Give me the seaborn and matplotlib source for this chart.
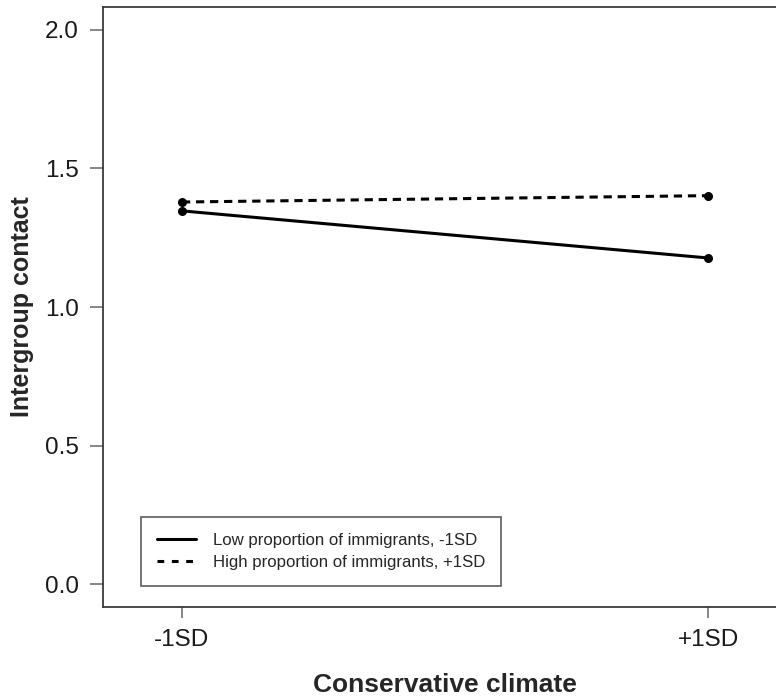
import numpy as np
import pandas as pd
import matplotlib
matplotlib.use("Agg")
import matplotlib.pyplot as plt
import seaborn as sns
from matplotlib.lines import Line2D

# Data
climate_labels = ["-1SD", "+1SD"]
climate_pos = [0, 1]
low_immigrants = [1.347, 1.177]
high_immigrants = [1.379, 1.402]
series_names = ["Low proportion of immigrants, -1SD", "High proportion of immigrants, +1SD"]
y_ticks = [0.0, 0.5, 1.0, 1.5, 2.0]

df = pd.DataFrame({
    "x": climate_pos * 2,
    "y": low_immigrants + high_immigrants,
    "group": [series_names[0]] * 2 + [series_names[1]] * 2,
})

sns.set_theme(style="white")
plt.rcParams["font.family"] = ["Liberation Sans", "DejaVu Sans"]

fig = plt.figure(figsize=(7.76, 6.99), dpi=100)
ax = fig.add_axes([103 / 776, 92 / 699, 684 / 776, 600 / 699])

sns.lineplot(data=df, x="x", y="y", style="group", hue="group",
             palette=["black", "black"],
             dashes={series_names[0]: "", series_names[1]: (2.7, 1.9)},
             markers={series_names[0]: "o", series_names[1]: "o"},
             markersize=6.5, markeredgewidth=0, linewidth=2.2,
             legend=False, ax=ax)

ax.set_xlim(-0.15, 1.15)
ax.set_ylim(-0.083, 2.083)
ax.set_xticks(climate_pos)
ax.set_xticklabels(climate_labels)
ax.set_yticks(y_ticks)
ax.set_yticklabels([f"{v:.1f}" for v in y_ticks])

for s in ax.spines.values():
    s.set_visible(True)
    s.set_color("#3a3a3a")
    s.set_linewidth(1.3)

ax.tick_params(axis="y", which="major", direction="out", length=9.5, width=1.1,
               color="#666666", labelsize=17.5, labelcolor="#1a1a1a", pad=8,
               left=True)
ax.tick_params(axis="x", which="major", direction="out", length=8, width=1.1,
               color="#666666", labelsize=17.5, labelcolor="#1a1a1a", pad=8,
               bottom=True)

ax.set_xlabel("Conservative climate", fontsize=19, fontweight="bold", labelpad=16)
ax.set_ylabel("Intergroup contact", fontsize=18, fontweight="bold", labelpad=7.5)

handles = [
    Line2D([0], [0], color="black", lw=2.2, linestyle="-"),
    Line2D([0], [0], color="black", lw=2.2, linestyle=(0, (2.2, 2.5))),
]
leg = ax.legend(handles, series_names, loc="lower left",
                bbox_to_anchor=(141 / 776, (699 - 586) / 699),
                bbox_transform=fig.transFigure,
                fontsize=12.1, frameon=True, fancybox=False,
                handlelength=2.32, handletextpad=1.03, borderpad=0.93,
                labelspacing=0.44, borderaxespad=0)
leg.get_frame().set_edgecolor("#333333")
leg.get_frame().set_linewidth(1.2)

fig.savefig("out.png", dpi=100)
